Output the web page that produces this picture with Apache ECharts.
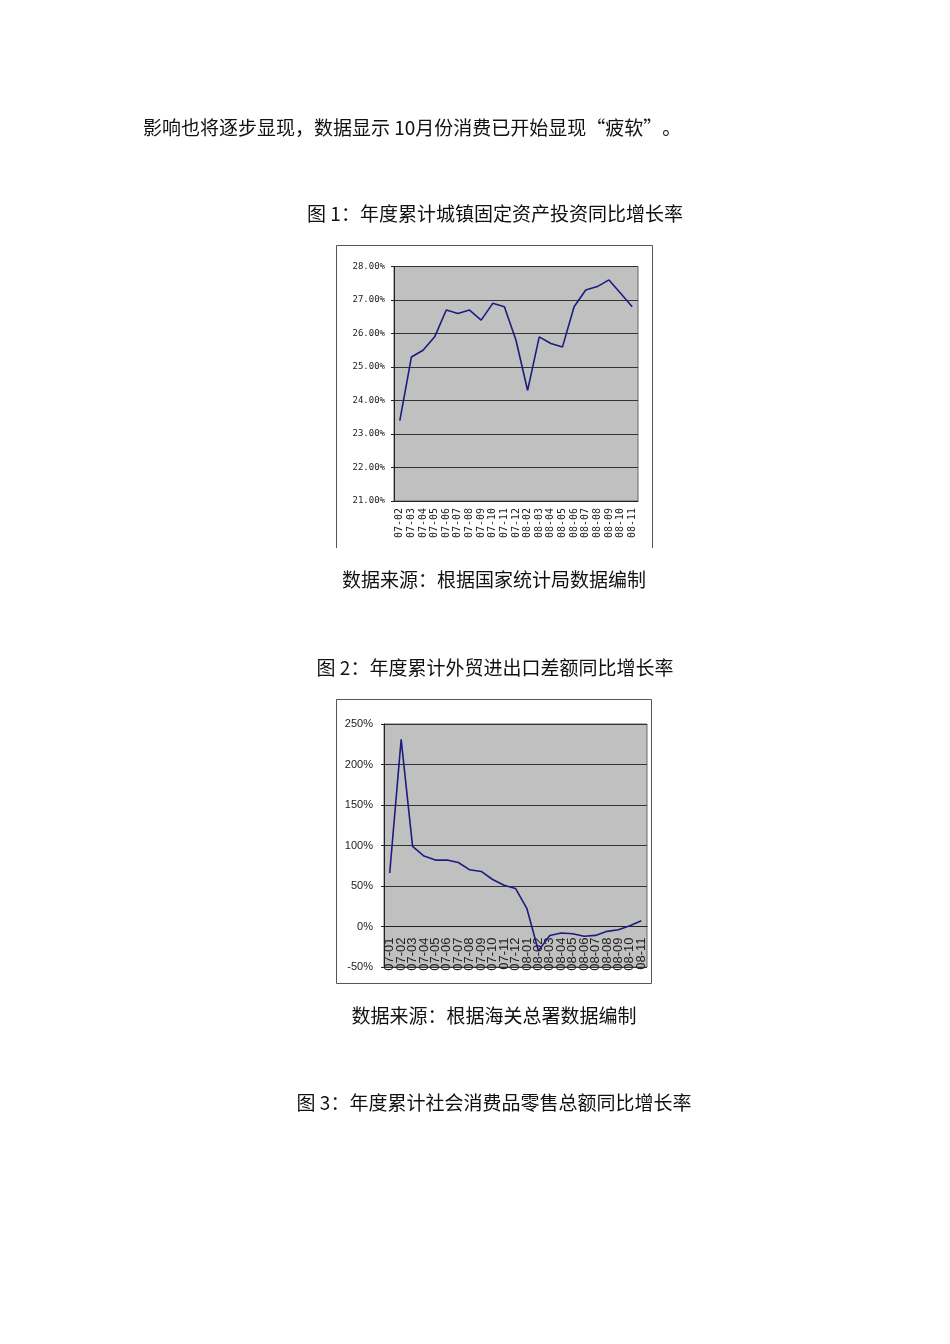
<!DOCTYPE html>
<html><head><meta charset="utf-8">
<script src="https://cdn.jsdelivr.net/npm/echarts@6/dist/echarts.min.js"></script>
<style>html,body{margin:0;padding:0;background:#fff}#c{width:950px;height:1344px}</style>
</head><body><div id="c"></div>
<script>
var cat1 = ['07-02','07-03','07-04','07-05','07-06','07-07','07-08','07-09','07-10','07-11','07-12','08-02','08-03','08-04','08-05','08-06','08-07','08-08','08-09','08-10','08-11'];
var val1 = [23.4,25.3,25.5,25.9,26.7,26.6,26.7,26.4,26.9,26.8,25.8,24.3,25.9,25.7,25.6,26.8,27.3,27.4,27.6,27.2,26.8];
var cat2 = ['07-01','07-02','07-03','07-04','07-05','07-06','07-07','07-08','07-09','07-10','07-11','07-12','08-01','08-02','08-03','08-04','08-05','08-06','08-07','08-08','08-09','08-10','08-11'];
var val2 = [66,231,99,87,82,82,79,70,68,58,51,47,22,-30,-11,-8,-9,-12,-11,-6,-4,1,7];
var texts = {
  para: '影响也将逐步显现，数据显示 10月份消费已开始显现“疲软”。',
  t1: '图 1：年度累计城镇固定资产投资同比增长率',
  s1: '数据来源：根据国家统计局数据编制',
  t2: '图 2：年度累计外贸进出口差额同比增长率',
  s2: '数据来源：根据海关总署数据编制',
  t3: '图 3：年度累计社会消费品零售总额同比增长率'
};

var chart = echarts.init(document.getElementById('c'), null, {renderer:'canvas'});
var cjk = '"Noto Sans CJK SC", sans-serif';
function txt(t, x, y, align) {
  return {type:'text', x:x, y:y, style:{text:t, fill:'#111', fontSize:19, fontFamily:cjk, align:align||'center', verticalAlign:'middle'}};
}
var monoLab = {fontFamily:'"DejaVu Sans Mono", monospace', fontSize:9, color:'#222'};
var sansLab = {fontFamily:'"Liberation Sans", Arial, sans-serif', fontSize:11, color:'#222'};

// grid 2 geometry: plot top 724, height 243, range -50..250 -> zero line offset from bottom
var g2Top = 724, g2H = 243, y2Min = -50, y2Max = 250;
var zeroOffset = g2H * (0 - y2Min) / (y2Max - y2Min);

chart.setOption({
  animation:false,
  backgroundColor:'#fff',
  graphic:[
    txt(texts.para, 143, 128, 'left'),
    txt(texts.t1, 495, 214),
    txt(texts.s1, 494, 580),
    txt(texts.t2, 495, 668),
    txt(texts.s2, 494, 1016),
    txt(texts.t3, 494, 1103),
    {type:'polyline', shape:{points:[[336.5,548],[336.5,245.5],[652.5,245.5],[652.5,548]]}, style:{stroke:'#555', fill:null, lineWidth:1}},
    {type:'rect', shape:{x:336.5, y:699.5, width:315, height:284}, style:{stroke:'#555', fill:null, lineWidth:1}}
  ],
  grid:[
    {left:394, top:266.5, width:244, height:234.5, show:true, backgroundColor:'#c0c0c0', borderColor:'#666', borderWidth:1},
    {left:384, top:g2Top, width:263, height:g2H, show:true, backgroundColor:'#c0c0c0', borderColor:'#666', borderWidth:1}
  ],
  xAxis:[
    {type:'category', gridIndex:0, data:cat1, boundaryGap:true,
     axisLine:{lineStyle:{color:'#222', width:1}}, axisTick:{length:4, lineStyle:{color:'#222'}},
     axisLabel:Object.assign({rotate:90, interval:0, margin:7}, monoLab, {fontSize:10})},
    {type:'category', gridIndex:1, data:cat2, boundaryGap:true, offset:-zeroOffset,
     axisLine:{onZero:false, lineStyle:{color:'#222', width:1}}, axisTick:{inside:true, length:3, lineStyle:{color:'#222'}},
     axisLabel:Object.assign({rotate:90, interval:0, margin:11}, sansLab, {fontSize:13})}
  ],
  yAxis:[
    {type:'value', gridIndex:0, min:21, max:28, interval:1,
     axisLine:{show:true, lineStyle:{color:'#222'}}, axisTick:{show:true, length:3, lineStyle:{color:'#222'}},
     splitLine:{lineStyle:{color:'#333', width:1}},
     axisLabel:Object.assign({margin:9, formatter:function(v){return v.toFixed(2)+'%';}}, monoLab)},
    {type:'value', gridIndex:1, min:y2Min, max:y2Max, interval:50,
     axisLine:{show:true, lineStyle:{color:'#222'}}, axisTick:{show:true, length:3, lineStyle:{color:'#222'}},
     splitLine:{lineStyle:{color:'#333', width:1}},
     axisLabel:Object.assign({margin:11, formatter:'{value}%'}, sansLab)}
  ],
  series:[
    {type:'line', xAxisIndex:0, yAxisIndex:0, data:val1, symbol:'none', lineStyle:{color:'#1c1c80', width:1.6}},
    {type:'line', xAxisIndex:1, yAxisIndex:1, data:val2, symbol:'none', lineStyle:{color:'#1c1c80', width:1.6}}
  ]
});
</script>
</body></html>
